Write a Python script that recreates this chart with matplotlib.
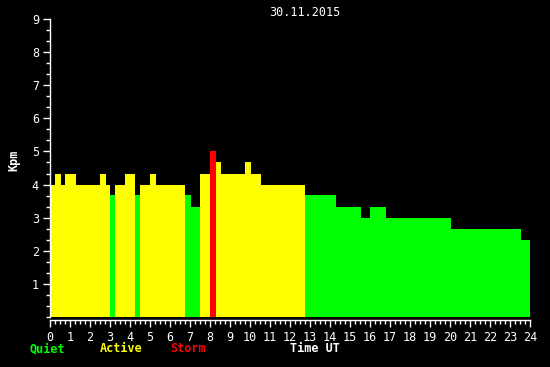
import matplotlib
matplotlib.use('Agg')
import matplotlib.pyplot as plt
from matplotlib.ticker import MultipleLocator

# time edges (hours UT) and Kpm values for each interval
edges = [0, 0.25, 0.55, 0.75, 1.3, 2.5, 2.8, 3.0, 3.25, 3.75, 4.25, 4.5, 5.0, 5.3,
         6.75, 7.05, 7.5, 8.0, 8.3, 8.55, 9.75, 10.05, 10.55, 12.75, 14.3, 15.55,
         16.0, 16.8, 20.05, 23.55, 24.05]
kpm = [4, 4.33, 4, 4.33, 4, 4.33, 4, 3.67, 4, 4.33, 3.67, 4, 4.33, 4, 3.67, 3.33,
       4.33, 5, 4.67, 4.33, 4.67, 4.33, 4, 3.67, 3.33, 3, 3.33, 3, 2.67, 2.33]
date_label = '30.11.2015'


def level_color(v):
    if v >= 5:
        return '#ff0000'
    if v >= 4:
        return '#ffff00'
    return '#00ff00'


plt.rcParams['font.family'] = ['DejaVu Sans Mono']

fig = plt.figure(figsize=(5.5, 3.67), dpi=100, facecolor='black')
ax = fig.add_axes([50 / 550, 50 / 367, 480 / 550, 298 / 367], facecolor='black')

starts = edges[:-1]
widths = [b - a for a, b in zip(edges[:-1], edges[1:])]
ax.bar(starts, kpm, width=widths, align='edge',
       color=[level_color(v) for v in kpm], linewidth=0)

ax.set_xlim(0, 24)
ax.set_ylim(0, 9)
ax.xaxis.set_major_locator(MultipleLocator(1))
ax.xaxis.set_minor_locator(MultipleLocator(0.25))
ax.set_yticks(range(1, 10))
ax.yaxis.set_minor_locator(MultipleLocator(1 / 3))

for s in ['top', 'right']:
    ax.spines[s].set_visible(False)
for s in ['left', 'bottom']:
    ax.spines[s].set_color('white')
    ax.spines[s].set_linewidth(1)
ax.spines['bottom'].set_position(('outward', 2))

ax.tick_params(which='major', colors='white', length=5, width=1, labelsize=8.5, pad=3)
ax.tick_params(which='minor', colors='white', length=3, width=1)

fig.text(14 / 550, 1 - 160 / 367, 'Kpm', color='white', rotation=90,
         ha='center', va='center', fontsize=8.5, fontweight='bold')
fig.text(305 / 550, 1 - 13 / 367, date_label, color='white',
         ha='center', va='center', fontsize=8.5)

legend_items = [('Quiet', '#00ff00', 30), ('Active', '#ffff00', 100),
                ('Storm', '#ff0000', 170), ('Time UT', 'white', 290)]
for txt, col, xp in legend_items:
    fig.text(xp / 550, 1 - 349 / 367, txt, color=col, ha='left', va='center',
             fontsize=8.5, fontweight='bold')

fig.savefig('out.png', dpi=100, facecolor='black')
